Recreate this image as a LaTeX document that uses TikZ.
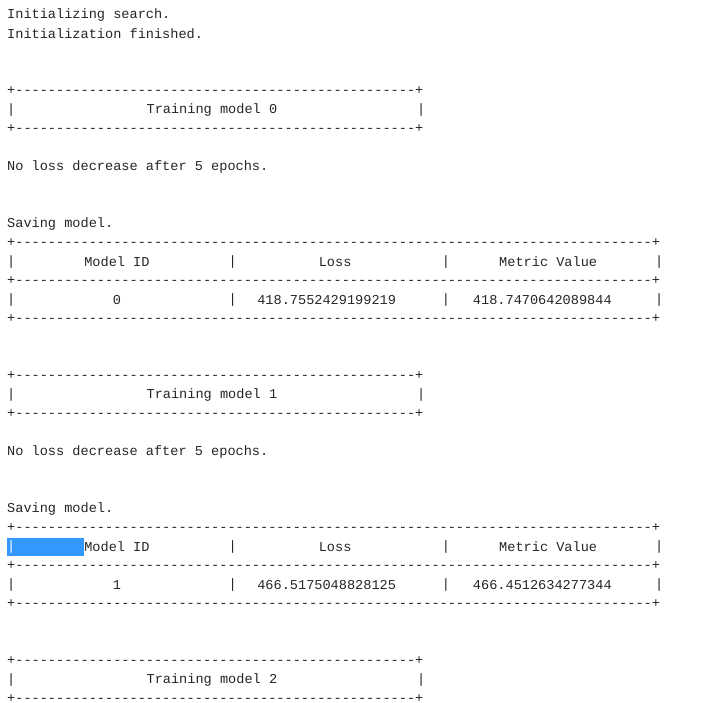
\documentclass[tikz,border=0pt]{standalone}
\usepackage{fontspec}
\newfontfamily\mono{Liberation Mono}
\newcommand\dsh[1]{+\foreach\i in {1,...,#1}{-}+}
\definecolor{sel}{HTML}{3399FF}
\tikzset{x=1pt,y=1pt,txt/.style={anchor=west,inner sep=0pt,font=\mono\fontsize{13.6}{14}\selectfont,text=black!85}}
\newcommand\T[4]{\node[txt] (#1) at ({7+#2*8.2},{-(#3)}) {#4};}
\begin{document}
\begin{tikzpicture}
\useasboundingbox (0,0) rectangle (718,-703);
\fill[white] (0,0) rectangle (718,-703);
\T{a1}{0}{15}{Initializing search.}
\T{a2}{0}{34}{Initialization finished.}
\fill[sel] (7,-538) rectangle (84,-556);
\foreach \o/\m/\k in {0/0/0,285/1/1}{
  \T{b1\k}{0}{91+\o}{\dsh{49}}
  \T{b2\k}{0}{110+\o}{|}
  \T{b3\k}{17}{110+\o}{Training model \m}
  \T{b4\k}{50}{110+\o}{|}
  \T{b5\k}{0}{129+\o}{\dsh{49}}
  \T{b6\k}{0}{167+\o}{No loss decrease after 5 epochs.}
  \T{b7\k}{0}{224+\o}{Saving model.}
  \T{c1\k}{0}{243+\o}{\dsh{78}}
  \T{c3\k}{9.4}{262+\o}{Model ID}
  \T{c4\k}{27}{262+\o}{|}
  \T{c5\k}{38}{262+\o}{Loss}
  \T{c6\k}{53}{262+\o}{|}
  \T{c7\k}{60}{262+\o}{Metric Value}
  \T{c8\k}{79}{262+\o}{|}
  \T{c9\k}{0}{281+\o}{\dsh{78}}
  \T{d2\k}{0}{300+\o}{|}
  \T{d3\k}{12.9}{300+\o}{\m}
  \T{d4\k}{27}{300+\o}{|}
  \T{d6\k}{53}{300+\o}{|}
  \T{d8\k}{79}{300+\o}{|}
  \T{d9\k}{0}{319+\o}{\dsh{78}}
}
\T{c20}{0}{262}{|}
\node[txt,text=white] (c21) at (7,-547) {|};
\T{v1}{30.5}{300}{418.7552429199219}
\T{v2}{56.8}{300}{418.7470642089844}
\T{v3}{30.5}{585}{466.5175048828125}
\T{v4}{56.8}{585}{466.4512634277344}
\T{e1}{0}{661}{\dsh{49}}
\T{e2}{0}{680}{|}
\T{e3}{17}{680}{Training model 2}
\T{e4}{50}{680}{|}
\T{e5}{0}{699}{\dsh{49}}
\end{tikzpicture}
\end{document}
